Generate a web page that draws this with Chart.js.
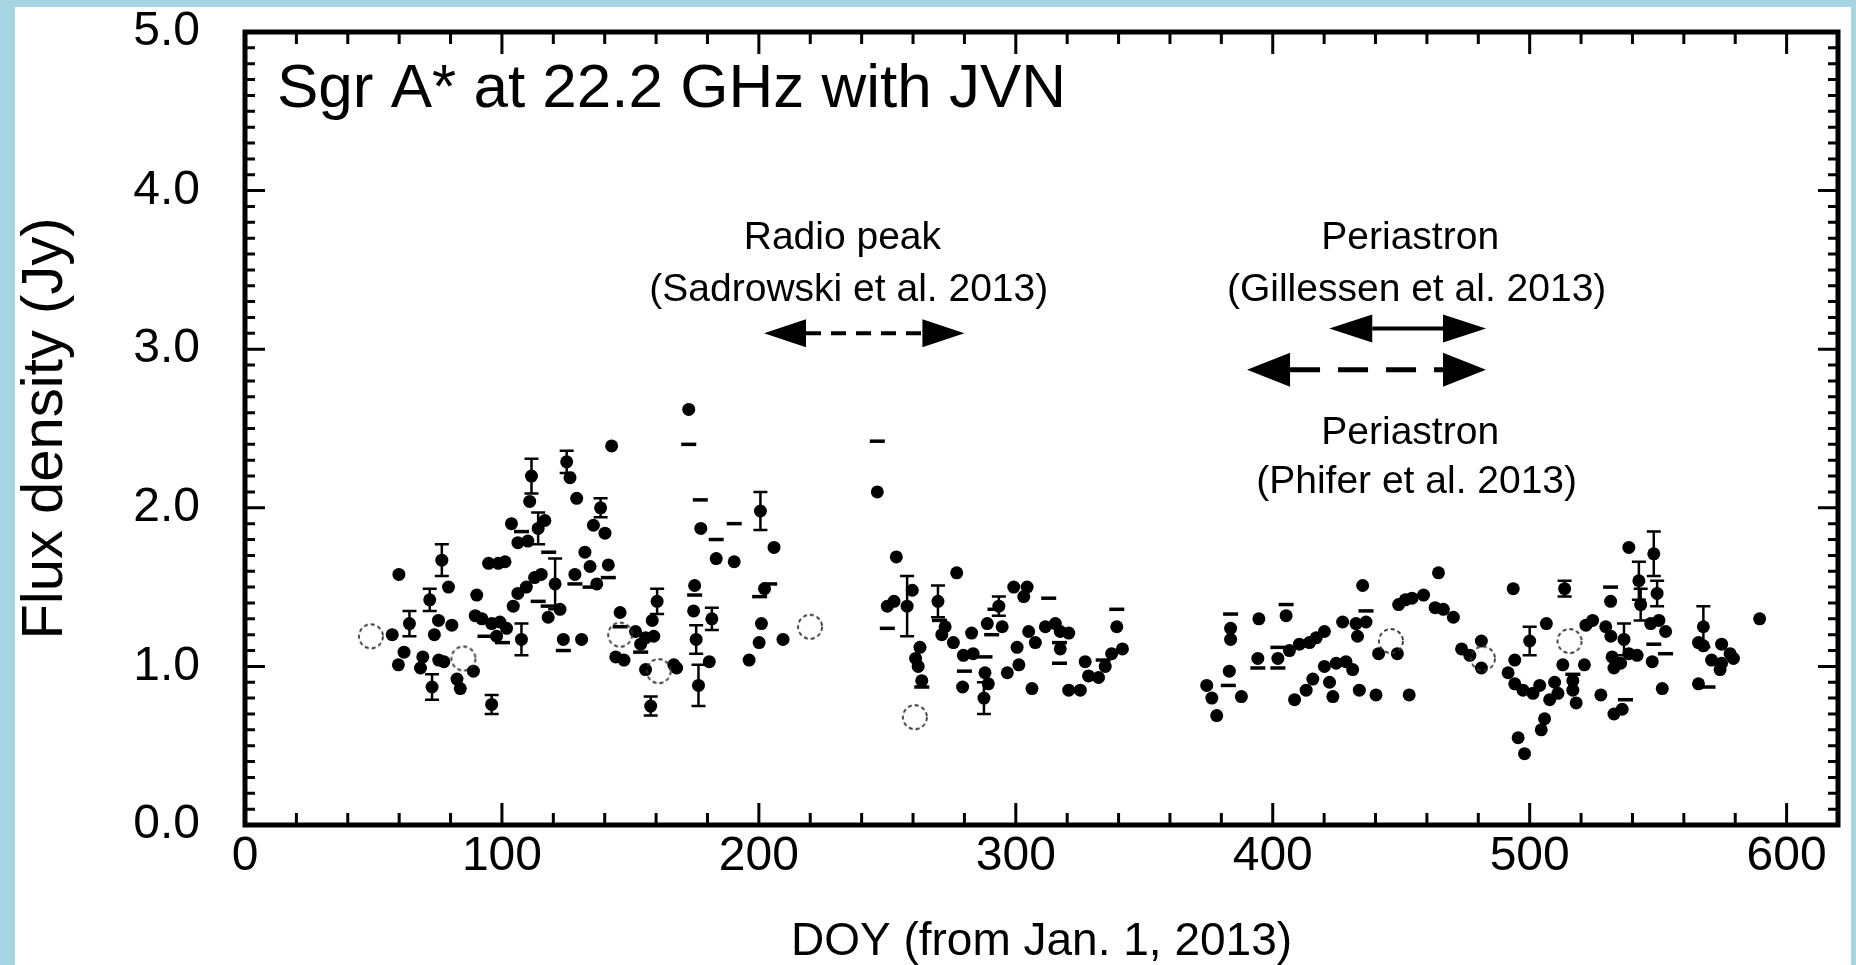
<!DOCTYPE html>
<html>
<head>
<meta charset="utf-8">
<script src="https://cdn.jsdelivr.net/npm/chart.js@4.4.1/dist/chart.umd.min.js"></script>
<style>
  html, body { margin: 0; padding: 0; background: #a6d6e4; width: 1856px; height: 965px; overflow: hidden; }
  #wrap { position: absolute; left: 15px; top: 7px; width: 1836px; height: 958px; background: #fff; }
</style>
</head>
<body>
<div id="wrap"><canvas id="flux" width="1836" height="958"></canvas></div>
<script>
// detections without drawn error bars (DOY, Jy)
const detDoy = [57.3,59.7,59.9,61.9,68.3,69.2,73.7,75.3,75.4,77.4,79.2,80.5,82.5,83.8,88.9,89.6,90.2,92.2,94.8,96.0,
  97.9,98.6,99.2,101.2,101.8,103.7,104.4,106.2,106.2,109.5,110.1,110.8,112.7,115.3,116.7,118.0,122.6,123.9,126.5,128.4,
  129.1,131.0,132.3,134.3,135.6,136.9,140.1,141.4,142.7,144.3,146.0,147.5,152.0,154.0,155.9,155.9,158.5,159.1,166.9,168.0,
  172.7,174.6,175.0,177.4,180.7,183.4,190.4,196.2,200.1,201.0,202.2,205.9,209.4,246.1,250.0,252.6,253.5,259.7,261.0,262.0,
  262.7,263.4,271.2,272.5,275.7,277.0,279.3,279.6,282.8,283.4,288.0,288.9,289.3,294.7,296.7,299.2,300.5,301.2,303.1,304.4,
  305.0,306.3,307.6,311.5,315.4,317.3,317.3,320.6,320.6,325.1,327.0,328.3,332.2,334.8,337.3,339.3,341.5,374.3,376.3,378.2,
  383.1,383.6,383.6,387.8,394.2,394.6,402.0,405.2,406.5,408.5,410.4,413.0,414.3,415.6,416.9,420.1,420.1,422.1,423.4,424.7,
  427.2,428.5,431.1,432.4,433.0,433.7,435.0,436.3,440.2,441.2,448.5,449.0,451.6,453.1,454.2,458.7,463.2,464.5,466.4,470.3,
  473.5,476.7,481.2,481.2,491.6,493.6,494.2,494.2,495.5,497.4,498.0,501.3,503.9,504.5,505.8,506.5,507.8,509.7,511.0,512.9,
  516.8,516.8,518.1,521.3,521.9,524.5,527.7,529.6,531.5,531.6,532.1,532.8,532.8,535.4,536.0,538.6,538.6,541.8,547.1,547.7,
  550.3,551.6,552.9,565.7,565.7,567.6,570.8,574.1,574.7,574.7,578.0,579.3,589.5];
const detFlux = [1.20,1.01,1.58,1.09,0.99,1.06,1.20,1.29,1.04,1.03,1.50,1.26,0.92,0.86,0.97,1.32,1.45,1.30,1.65,1.27,
  1.19,1.65,1.28,1.66,1.24,1.90,1.38,1.78,1.46,1.50,1.79,2.04,1.56,1.58,1.92,1.31,1.36,1.17,2.19,1.58,
  2.06,1.17,1.72,1.63,1.89,1.52,1.84,1.64,2.39,1.06,1.34,1.04,1.22,1.14,1.18,0.98,1.29,1.19,1.01,0.99,
  2.62,1.35,1.51,1.87,1.03,1.68,1.66,1.04,1.15,1.27,1.49,1.75,1.17,2.10,1.38,1.41,1.69,1.48,1.05,1.00,
  1.12,0.91,1.20,1.25,1.15,1.59,0.87,1.07,1.21,1.08,0.96,1.27,0.89,1.25,0.96,1.50,1.12,1.01,1.44,1.50,
  1.22,0.86,1.15,1.25,1.27,1.22,1.11,1.21,0.85,0.85,1.03,0.94,0.93,1.00,1.08,1.25,1.11,0.88,0.80,0.69,
  0.97,1.17,1.24,0.81,1.05,1.30,1.05,1.32,1.10,0.79,1.14,0.85,1.15,0.92,1.18,1.22,1.00,0.90,0.81,1.02,
  1.28,1.03,0.98,1.27,1.19,0.85,1.51,1.28,0.82,1.08,1.08,1.39,1.42,0.82,1.43,1.45,1.37,1.59,1.36,1.31,
  1.11,1.07,1.16,0.99,0.96,1.49,1.04,0.89,0.55,0.85,0.45,0.83,0.88,0.60,0.67,1.27,0.79,0.90,0.83,1.01,
  0.91,0.85,0.77,1.01,1.26,1.29,0.82,1.25,1.41,1.19,1.06,0.99,0.70,1.02,0.73,1.75,1.08,1.07,1.27,1.03,
  1.29,0.86,1.22,1.15,0.89,1.13,1.04,0.98,1.14,1.02,1.08,1.05,1.30];

// detections with error bars
const errDoy = [64.0,71.9,72.8,76.6,96.0,107.6,111.5,114.1,120.7,125.2,138.4,157.9,160.4,175.6,176.5,181.7,200.6,
  257.7,269.7,287.6,293.4,500.0,513.6,536.7,542.5,543.2,548.3,549.6,567.6];
const errFlux = [1.27,1.42,0.87,1.67,0.76,1.17,2.20,1.87,1.52,2.29,2.00,0.75,1.41,1.17,0.88,1.30,1.98,
  1.38,1.41,0.80,1.38,1.16,1.49,1.17,1.54,1.39,1.71,1.46,1.25];
const errSigma = [0.08,0.07,0.08,0.10,0.06,0.10,0.11,0.10,0.16,0.07,0.06,0.06,0.08,0.09,0.13,0.07,0.12,
  0.19,0.10,0.10,0.06,0.09,0.05,0.10,0.12,0.10,0.14,0.08,0.13];

// short horizontal dash marks
const dashDoy = [93.4,100.2,107.6,114.1,118.0,118.2,123.9,128.4,134.3,141.4,146.0,154.0,172.7,175.0,177.2,183.4,190.4,
  200.3,204.2,246.1,250.0,263.4,270.3,280.0,288.0,290.6,291.9,312.8,317.0,317.0,334.0,339.3,383.6,382.7,394.2,402.0,
  402.0,405.2,436.3,516.8,531.5,537.3,548.3,552.9,569.4];
const dashFlux = [1.19,1.15,1.85,1.41,1.38,1.72,1.10,1.52,1.50,1.56,1.25,1.09,2.40,1.45,2.05,1.80,1.90,
  1.44,1.52,2.42,1.24,0.87,1.29,0.97,1.06,1.20,1.36,1.43,1.15,1.02,1.04,1.36,1.33,0.88,0.99,1.12,
  0.99,1.39,1.35,0.95,1.50,0.79,1.14,1.08,0.87];

// open (dashed) circles
const openDoy = [49.0,85.0,146.0,161.0,219.9,260.7,446.0,481.8,515.5];
const openFlux = [1.19,1.05,1.20,0.97,1.25,0.68,1.16,1.05,1.16];

// axes
const xMajor = [0,100,200,300,400,500,600];
const yMajor = [0,1,2,3,4,5];

// event ranges (DOY) shown as double arrows
const radioPeakRange = [202, 280];
const gillessenRange = [422, 483];
const phiferRange = [390, 483];

const FONT = '"Liberation Sans", Arial, Helvetica, sans-serif';

const pts = (xs, ys) => xs.map((x, i) => ({x: x, y: ys[i]}));

// dashed open circle marker
const openMarker = document.createElement('canvas');
openMarker.width = 30; openMarker.height = 30;
(function () {
  const c = openMarker.getContext('2d');
  c.strokeStyle = '#333';
  c.lineWidth = 1.8;
  c.setLineDash([4, 3]);
  c.beginPath();
  c.arc(15, 15, 12, 0, Math.PI * 2);
  c.stroke();
})();

const errorBars = {
  id: 'errorBars',
  beforeDatasetsDraw(chart) {
    const {ctx, scales: {x, y}} = chart;
    ctx.save();
    ctx.strokeStyle = '#000';
    ctx.lineWidth = 2.5;
    errDoy.forEach((d, i) => {
      const px = x.getPixelForValue(d);
      const lo = y.getPixelForValue(errFlux[i] - errSigma[i]);
      const hi = y.getPixelForValue(errFlux[i] + errSigma[i]);
      ctx.beginPath();
      ctx.moveTo(px, lo); ctx.lineTo(px, hi);
      ctx.moveTo(px - 7, lo); ctx.lineTo(px + 7, lo);
      ctx.moveTo(px - 7, hi); ctx.lineTo(px + 7, hi);
      ctx.stroke();
    });
    ctx.restore();
  }
};

const frame = {
  id: 'frame',
  afterDraw(chart) {
    const {ctx, chartArea: a, scales: {x, y}} = chart;
    ctx.save();
    ctx.strokeStyle = '#000';
    ctx.lineCap = 'butt';
    ctx.lineWidth = 3;
    for (let v = 0; v <= 620; v += 20) {
      const px = x.getPixelForValue(v);
      const len = v % 100 === 0 ? 22 : 12;
      ctx.beginPath();
      ctx.moveTo(px, a.bottom); ctx.lineTo(px, a.bottom - len);
      ctx.moveTo(px, a.top); ctx.lineTo(px, a.top + len);
      ctx.stroke();
    }
    for (let k = 0; k <= 50; k++) {
      const py = y.getPixelForValue(k / 10);
      const len = k % 10 === 0 ? 20 : 10;
      ctx.beginPath();
      ctx.moveTo(a.left, py); ctx.lineTo(a.left + len, py);
      ctx.moveTo(a.right, py); ctx.lineTo(a.right - len, py);
      ctx.stroke();
    }
    ctx.lineWidth = 5;
    ctx.strokeRect(a.left, a.top, a.right - a.left, a.bottom - a.top);
    ctx.restore();
  }
};

function doubleArrow(ctx, x1, x2, py, dash, lw, head, half) {
  ctx.save();
  ctx.fillStyle = '#000';
  ctx.strokeStyle = '#000';
  ctx.lineWidth = lw;
  ctx.setLineDash(dash);
  ctx.beginPath();
  ctx.moveTo(x1 + head, py); ctx.lineTo(x2 - head, py);
  ctx.stroke();
  ctx.setLineDash([]);
  ctx.beginPath();
  ctx.moveTo(x1, py); ctx.lineTo(x1 + head, py - half); ctx.lineTo(x1 + head, py + half); ctx.closePath();
  ctx.moveTo(x2, py); ctx.lineTo(x2 - head, py - half); ctx.lineTo(x2 - head, py + half); ctx.closePath();
  ctx.fill();
  ctx.restore();
}

const notes = {
  id: 'notes',
  afterDraw(chart) {
    const {ctx, chartArea: a, scales: {x, y}} = chart;
    ctx.save();
    ctx.fillStyle = '#000';
    ctx.textBaseline = 'alphabetic';
    ctx.textAlign = 'left';
    ctx.font = '62px ' + FONT;
    ctx.fillText('Sgr A* at 22.2 GHz with JVN', a.left + 32, a.top + 75);

    ctx.font = '39px ' + FONT;
    ctx.textAlign = 'center';
    ctx.textBaseline = 'middle';
    ctx.fillText('Radio peak', x.getPixelForValue(232.5), y.getPixelForValue(3.70));
    ctx.fillText('(Sadrowski et al. 2013)', x.getPixelForValue(235), y.getPixelForValue(3.37));
    ctx.fillText('Periastron', x.getPixelForValue(453.5), y.getPixelForValue(3.70));
    ctx.fillText('(Gillessen et al. 2013)', x.getPixelForValue(456), y.getPixelForValue(3.37));
    ctx.fillText('Periastron', x.getPixelForValue(453.5), y.getPixelForValue(2.47));
    ctx.fillText('(Phifer et al. 2013)', x.getPixelForValue(456), y.getPixelForValue(2.16));
    ctx.restore();

    doubleArrow(ctx, x.getPixelForValue(radioPeakRange[0]), x.getPixelForValue(radioPeakRange[1]),
      y.getPixelForValue(3.10), [15, 10], 4, 42, 14);
    doubleArrow(ctx, x.getPixelForValue(gillessenRange[0]), x.getPixelForValue(gillessenRange[1]),
      y.getPixelForValue(3.13), [], 4, 43, 14);
    doubleArrow(ctx, x.getPixelForValue(phiferRange[0]), x.getPixelForValue(phiferRange[1]),
      y.getPixelForValue(2.87), [30, 18], 5, 43, 17);
  }
};

new Chart(document.getElementById('flux'), {
  type: 'scatter',
  data: {
    datasets: [
      {label: 'open', data: pts(openDoy, openFlux), pointStyle: openMarker, pointRadius: 12},
      {label: 'dash', data: pts(dashDoy, dashFlux), pointStyle: 'line', pointRadius: 7.5,
        borderColor: '#000', borderWidth: 3.5},
      {label: 'det', data: pts(detDoy, detFlux), pointRadius: 6.5, backgroundColor: '#000', borderWidth: 0},
      {label: 'det err', data: pts(errDoy, errFlux), pointRadius: 6.5, backgroundColor: '#000', borderWidth: 0}
    ]
  },
  options: {
    responsive: false,
    animation: false,
    layout: {padding: {top: 25, right: 6, left: 0, bottom: 0}},
    plugins: {legend: {display: false}, tooltip: {enabled: false}},
    scales: {
      x: {
        type: 'linear', min: 0, max: 620,
        afterFit: s => { s.height = 140; },
        grid: {display: false, drawTicks: true, tickLength: 8},
        border: {display: false},
        afterBuildTicks: s => { s.ticks = xMajor.map(v => ({value: v})); },
        ticks: {color: '#000', padding: 0, maxRotation: 0, font: {family: FONT, size: 48, lineHeight: 1}},
        title: {display: true, text: 'DOY (from Jan. 1, 2013)', color: '#000',
          font: {family: FONT, size: 46, lineHeight: 1}, padding: {top: 0, bottom: 0}}
      },
      y: {
        min: 0, max: 5,
        afterFit: s => { s.width = 230; },
        grid: {display: false, drawTicks: true, tickLength: 45},
        border: {display: false},
        afterBuildTicks: s => { s.ticks = yMajor.map(v => ({value: v})); },
        ticks: {color: '#000', padding: 0, font: {family: FONT, size: 48, lineHeight: 1},
          callback: v => Number(v).toFixed(1)},
        title: {display: true, text: 'Flux density (Jy)', color: '#000',
          font: {family: FONT, size: 58, lineHeight: 1}, padding: {top: 2, bottom: 0}}
      }
    }
  },
  plugins: [errorBars, frame, notes]
});
</script>
</body>
</html>
